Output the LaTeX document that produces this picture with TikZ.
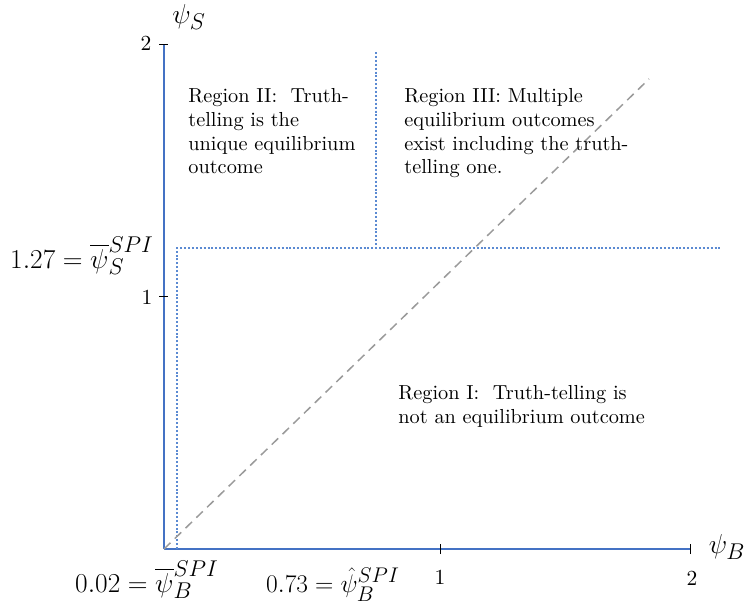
\documentclass[tikz,border=0pt]{standalone}
\usepackage{amsmath}
\usepackage{tikz}
\usetikzlibrary{positioning}

\definecolor{axisblue}{HTML}{4472C4}
\definecolor{dotblue}{HTML}{5B8AD2}
\definecolor{diaggray}{HTML}{9A9A9A}

\begin{document}
\begin{tikzpicture}[x=1pt, y=-1pt,
  axis/.style={draw=axisblue, line width=2.8pt},
  tickmark/.style={draw=black, line width=0.9pt},
  bound/.style={draw=dotblue, line width=2.2pt, dash pattern=on 2pt off 1.9pt},
  diag/.style={draw=diaggray, line width=1.5pt, dash pattern=on 9pt off 6pt},
  region/.style={align=left, anchor=north west, inner sep=0pt,
    font=\fontsize{10}{11.72}\selectfont, scale=2.03},
  ticklabel/.style={inner sep=0pt, font=\fontsize{10}{12}\selectfont, scale=2.15},
  mathlabel/.style={inner sep=0pt, font=\fontsize{24.88}{30}\selectfont, scale=1.1},
]
\useasboundingbox (0,0) rectangle (744,611);

%% Axes
\coordinate (O) at (164,549);
\coordinate (xend) at (690,549);
\coordinate (yend) at (164,44);
\coordinate (x1) at (440,549);
\coordinate (y1) at (164,296);
\draw[axis] (O) -- (xend);
\draw[axis] (O) -- (yend);

%% Ticks
\draw[tickmark] ([yshift=-5pt]x1) -- ([yshift=5pt]x1);
\draw[tickmark] ([yshift=-5pt]xend) -- ([yshift=5pt]xend);
\draw[tickmark] ([xshift=-5pt]y1) -- ([xshift=4pt]y1);
\draw[tickmark] ([xshift=-5pt]yend) -- ([xshift=4pt]yend);

\node[ticklabel] (lx1) at (440,577) {1};
\node[ticklabel] (lx2) at (692,578) {2};
\node[ticklabel] (ly1) at (147,297) {1};
\node[ticklabel] (ly2) at (146,43) {2};

\node[mathlabel] (psiS) at (189,17) {$\psi_S$};
\node[mathlabel] (psiB) at (727,547) {$\psi_B$};

%% Region boundaries
\coordinate (cornerSW) at (177,549);
\coordinate (corner) at (177,248);
\coordinate (boundE) at (720,248);
\coordinate (topN) at (376,52);
\coordinate (topS) at (376,248);
\draw[bound] (cornerSW) -- (corner) -- (boundE);
\draw[bound] (topN) -- (topS);

%% 45-degree line
\coordinate (diagEnd) at (649,79);
\draw[diag] (O) -- (diagEnd);

%% Threshold labels
\node[mathlabel, anchor=base west] (thS) at (10,268)
  {$1.27=\overline{\psi}_S^{SPI}$};
\node[mathlabel, anchor=base west] (thB) at (75,592)
  {$0.02=\overline{\psi}_B^{SPI}$};
\node[mathlabel, anchor=base west, scale=0.93] (hatB) at (266,592)
  {$0.73=\hat{\psi}_B^{SPI}$};

%% Region texts
\node[region] (reg2) at (188,88)
  {Region II:\ \ Truth-\\telling is the\\unique equilibrium\\outcome};
\node[region] (reg3) at (404,88)
  {Region III: Multiple\\equilibrium outcomes\\exist including the truth-\\telling one.};
\node[region] (reg1) at (398,385)
  {Region I:\ \ Truth-telling is\\not an equilibrium outcome};

\end{tikzpicture}
\end{document}
